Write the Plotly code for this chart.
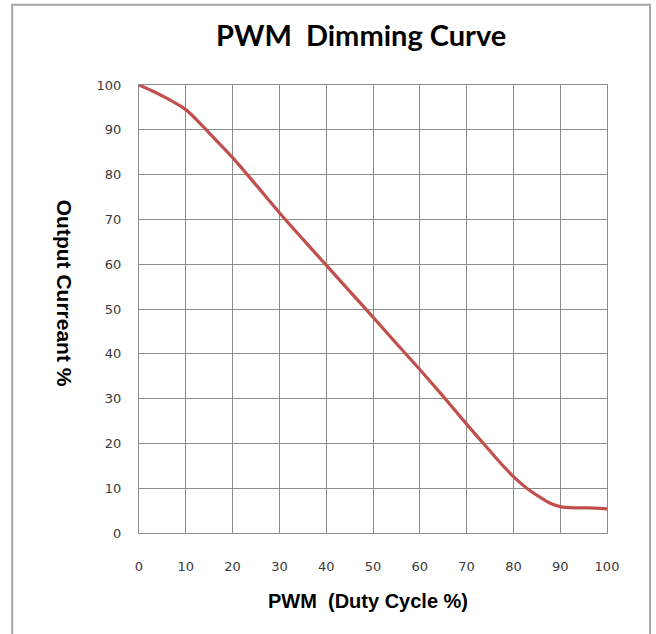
import plotly.graph_objects as go

pwm = [0, 3, 6, 10, 13, 16, 20, 25, 30, 35, 40, 45, 50, 55, 60, 65, 70, 75, 77, 80, 83, 86, 88, 90, 93, 96, 100]
current = [100, 98.6, 97, 94.5, 91.5, 88.2, 83.8, 77.7, 71.5, 65.6, 59.8, 54, 48.2, 42.3, 36.5, 30.5, 24.3, 18.3, 15.9, 12.6, 9.9, 7.8, 6.6, 5.9, 5.6, 5.6, 5.4]
ticks = list(range(0, 101, 10))

fig = go.Figure()
fig.add_trace(go.Scatter(x=pwm, y=current, mode="lines",
                         line=dict(color="#c0504d", width=3.2, shape="spline", smoothing=0.8),
                         showlegend=False, hoverinfo="skip"))

tickfont = dict(family="DejaVu Sans", size=13, color="#3a3a3a")
grid = "#8c8c8c"
fig.update_xaxes(range=[0, 100], tickvals=ticks, showgrid=True, gridcolor=grid, gridwidth=1,
                 showline=True, linecolor=grid, linewidth=1, mirror=True, zeroline=False,
                 ticks="", tickfont=tickfont, ticklabelstandoff=21)
fig.update_yaxes(range=[0, 100], tickvals=ticks, showgrid=True, gridcolor=grid, gridwidth=1,
                 showline=True, linecolor=grid, linewidth=1, mirror=True, zeroline=False,
                 ticks="", tickfont=tickfont, ticklabelstandoff=14)

fig.update_layout(
    width=656, height=634,
    margin=dict(l=139, r=49, t=85, b=101),
    paper_bgcolor="white", plot_bgcolor="white",
    annotations=[
        dict(text="<b>PWM\u00a0 Dimming Curve</b>", xref="paper", yref="paper", x=0.475, y=1.112,
             xanchor="center", yanchor="middle", showarrow=False,
             font=dict(family="Lato", size=29, color="black")),
        dict(text="<b>PWM\u00a0 (Duty Cycle %)</b>", xref="paper", yref="paper", x=0.490, y=-0.152,
             xanchor="center", yanchor="middle", showarrow=False,
             font=dict(family="Liberation Sans", size=20, color="black")),
        dict(text="<b>Output Curreant %</b>", xref="paper", yref="paper", x=-0.160, y=0.536,
             xanchor="center", yanchor="middle", showarrow=False, textangle=90,
             font=dict(family="Liberation Sans", size=21, color="black")),
    ],
    shapes=[dict(type="rect", xref="paper", yref="paper", x0=-0.271, x1=1.092, y0=-0.35, y1=1.179,
                 line=dict(color="#a6a6a6", width=2), layer="below")],
)
fig.write_html("out.html", config={"displayModeBar": False},
               post_script="document.body.style.margin='0';")
